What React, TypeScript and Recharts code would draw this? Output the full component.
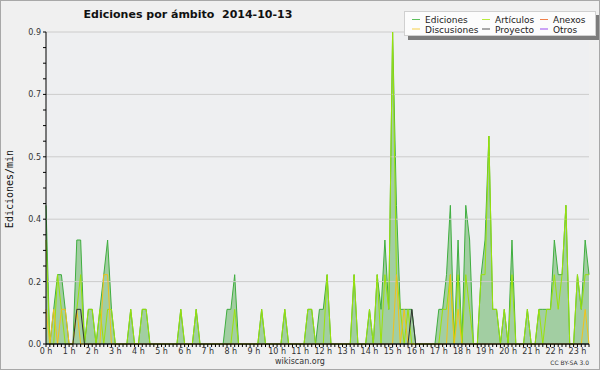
import { Area, ComposedChart, Legend, Line, ReferenceLine, XAxis, YAxis } from "recharts"

// ediciones por minuto, tramos de 10 min (una fila = una hora)
const ediciones = [
	0.4, 0, 0.1, 0.2, 0.2, 0.1,
	0, 0, 0.3, 0.3, 0, 0.1,
	0.1, 0, 0.1, 0.2, 0.3, 0.1,
	0, 0, 0, 0, 0.1, 0,
	0, 0.1, 0.1, 0, 0, 0,
	0, 0, 0, 0, 0, 0.1,
	0, 0, 0, 0.1, 0, 0,
	0, 0, 0, 0, 0, 0.1,
	0.1, 0.2, 0, 0, 0, 0,
	0, 0, 0.1, 0, 0, 0,
	0, 0, 0.1, 0, 0, 0,
	0, 0, 0.1, 0.1, 0, 0.1,
	0.1, 0.2, 0, 0, 0, 0,
	0, 0, 0.2, 0, 0, 0,
	0.1, 0, 0.2, 0.1, 0.3, 0.1,
	0.9, 0.4, 0.1, 0.1, 0.1, 0.1,
	0, 0, 0, 0, 0, 0,
	0.1, 0.1, 0.2, 0.4, 0, 0.3,
	0, 0.4, 0.3, 0, 0, 0.2,
	0.3, 0.6, 0.1, 0.1, 0, 0.1,
	0, 0.3, 0, 0, 0, 0.1,
	0, 0, 0.1, 0.1, 0.1, 0.1,
	0.3, 0.2, 0.2, 0.4, 0, 0,
	0.2, 0.1, 0.3, 0.2,
]

const articulos = [
	0.3, 0, 0, 0.2, 0.1, 0,
	0, 0, 0.1, 0.2, 0, 0.1,
	0.1, 0, 0.1, 0, 0.1, 0.1,
	0, 0, 0, 0, 0.1, 0,
	0, 0.1, 0.1, 0, 0, 0,
	0, 0, 0, 0, 0, 0.1,
	0, 0, 0, 0.1, 0, 0,
	0, 0, 0, 0, 0, 0,
	0, 0.1, 0, 0, 0, 0,
	0, 0, 0.1, 0, 0, 0,
	0, 0, 0.1, 0, 0, 0,
	0, 0, 0.1, 0.1, 0, 0,
	0, 0.2, 0, 0, 0, 0,
	0, 0, 0.2, 0, 0, 0,
	0.1, 0, 0.2, 0, 0.2, 0.1,
	0.9, 0.2, 0.1, 0, 0.1, 0,
	0, 0, 0, 0, 0, 0,
	0, 0.1, 0.1, 0.2, 0, 0.2,
	0, 0.2, 0.1, 0, 0, 0.2,
	0.2, 0.6, 0.1, 0.1, 0, 0.1,
	0, 0.2, 0, 0, 0, 0.1,
	0, 0, 0.1, 0, 0.1, 0.1,
	0.2, 0.1, 0.2, 0.4, 0, 0,
	0.2, 0.1, 0.2, 0.2,
]

const discusiones = [
	0.1, 0, 0.1, 0, 0.1, 0.1,
	0, 0, 0.1, 0, 0, 0,
	0, 0, 0, 0.2, 0.2, 0,
	0, 0, 0, 0, 0, 0,
	0, 0, 0, 0, 0, 0,
	0, 0, 0, 0, 0, 0,
	0, 0, 0, 0, 0, 0,
	0, 0, 0, 0, 0, 0,
	0, 0, 0, 0, 0, 0,
	0, 0, 0, 0, 0, 0,
	0, 0, 0, 0, 0, 0,
	0, 0, 0, 0, 0, 0,
	0, 0, 0, 0, 0, 0,
	0, 0, 0, 0, 0, 0,
	0, 0, 0, 0, 0, 0,
	0, 0.2, 0, 0.1, 0, 0,
	0, 0, 0, 0, 0, 0,
	0, 0, 0, 0.2, 0, 0.1,
	0, 0, 0, 0, 0, 0,
	0, 0, 0, 0, 0, 0,
	0, 0, 0, 0, 0, 0,
	0, 0, 0, 0, 0, 0,
	0, 0, 0, 0, 0, 0,
	0, 0, 0.1, 0,
]

const proyecto = [
	0, 0, 0, 0, 0, 0,
	0, 0, 0.1, 0.1, 0, 0,
	0, 0, 0, 0, 0, 0,
	0, 0, 0, 0, 0, 0,
	0, 0, 0, 0, 0, 0,
	0, 0, 0, 0, 0, 0,
	0, 0, 0, 0, 0, 0,
	0, 0, 0, 0, 0, 0,
	0, 0, 0, 0, 0, 0,
	0, 0, 0, 0, 0, 0,
	0, 0, 0, 0, 0, 0,
	0, 0, 0, 0, 0, 0,
	0, 0, 0, 0, 0, 0,
	0, 0, 0, 0, 0, 0,
	0, 0, 0, 0, 0, 0,
	0, 0, 0, 0, 0, 0.1,
	0, 0, 0, 0, 0, 0,
	0, 0, 0, 0, 0, 0,
	0, 0, 0, 0, 0, 0,
	0, 0, 0, 0, 0, 0,
	0, 0, 0, 0, 0, 0,
	0, 0, 0, 0, 0, 0,
	0, 0, 0, 0, 0, 0,
	0, 0, 0, 0,
]

const yMajor = [0, 0.18, 0.36, 0.54, 0.72, 0.9]
const legendItems = [
	{ name: "Ediciones", color: "#5cc05c" },
	{ name: "Artículos", color: "#b8ec3c" },
	{ name: "Anexos", color: "#f0804a" },
	{ name: "Discusiones", color: "#f6d048" },
	{ name: "Proyecto", color: "#555555" },
	{ name: "Otros", color: "#9a4cf0" },
]

const data = ediciones.map((v, i) => ({
	t: i * 10,
	ediciones: v,
	articulos: articulos[i],
	discusiones: discusiones[i],
	proyecto: proyecto[i],
}))

const xTicks = data.map((d) => d.t)
const yTicks: number[] = []
for (let k = 0; k <= 20; k++) yTicks.push(k * 0.045)

const FONT = "'DejaVu Sans', sans-serif"

function XTick(props: any) {
	const { x, y, payload } = props
	const v = payload.value
	return (
		<g>
			<line x1={x} x2={x} y1={y} y2={y + 3} stroke="#000" />
			{v % 60 === 0 && (
				<text x={x} y={y + 10} textAnchor="middle" fontSize={8} fontFamily={FONT} fill="#333">
					{`${v / 60} h`}
				</text>
			)}
		</g>
	)
}

function YTick(props: any) {
	const { x, y, payload, index } = props
	return (
		<g>
			<line x1={x - 3} x2={x} y1={y} y2={y} stroke="#000" />
			{index % 4 === 0 && (
				<text x={x - 5} y={y + 3} textAnchor="end" fontSize={8} fontFamily={FONT} fill="#333">
					{payload.value.toFixed(1)}
				</text>
			)}
		</g>
	)
}

function LegendBox() {
	const cols = [7, 77, 135]
	const rows = [7.5, 17]
	return (
		<div
			style={{
				width: 190,
				height: 23,
				background: "#fcfcfc",
				border: "1px solid #d0d0d0",
				boxShadow: "4px 4px 0 #7c7c7c",
			}}
		>
			<svg width={190} height={23} style={{ display: "block" }}>
				{legendItems.map((it, i) => {
					const cx = cols[i % 3]
					const cy = rows[Math.floor(i / 3)]
					return (
						<g key={it.name}>
							<line x1={cx} x2={cx + 8} y1={cy} y2={cy} stroke={it.color} />
							<text x={cx + 13} y={cy + 3.5} fontSize={9} fontFamily={FONT} fill="#222">
								{it.name}
							</text>
						</g>
					)
				})}
			</svg>
		</div>
	)
}

export default function App() {
	return (
		<div style={{ position: "relative", width: 600, height: 370, background: "#f0f0f0" }}>
			<style>{`body{margin:0}`}</style>
			<ComposedChart
				width={600}
				height={370}
				data={data}
				margin={{ top: 32, right: 11, bottom: 0, left: 0 }}
			>
				<rect x={46} y={32} width={543} height={312} fill="#eeeff1" />
				{yMajor.slice(1).map((v) => (
					<ReferenceLine key={v} y={v} stroke="#cccccc" ifOverflow="extendDomain" />
				))}
				<XAxis
					dataKey="t"
					type="number"
					domain={[0, 1410]}
					ticks={xTicks}
					interval={0}
					tickSize={0}
					tickMargin={0}
					tickLine={false}
					tick={<XTick />}
					height={26}
					axisLine={{ stroke: "#000" }}
				/>
				<YAxis
					type="number"
					domain={[0, 0.9]}
					ticks={yTicks}
					interval={0}
					tickSize={0}
					tickMargin={0}
					tickLine={false}
					tick={<YTick />}
					width={46}
					axisLine={{ stroke: "#000" }}
				/>
				<Area
					type="linear"
					dataKey="ediciones"
					stroke="#3fae3f"
					strokeWidth={1}
					fill="#8fc68f"
					fillOpacity={0.8}
					isAnimationActive={false}
					dot={false}
				/>
				<Line type="linear" dataKey="articulos" stroke="#9be30a" strokeWidth={1} dot={false} isAnimationActive={false} />
				<Line type="linear" dataKey="discusiones" stroke="#f2c21a" strokeWidth={1} dot={false} isAnimationActive={false} />
				<Line type="linear" dataKey="proyecto" stroke="#333333" strokeWidth={1} dot={false} isAnimationActive={false} />
				<Legend
					layout="horizontal"
					verticalAlign="middle"
					align="center"
					wrapperStyle={{ left: 404, top: 11, width: 192, height: 25 }}
					content={() => <LegendBox />}
				/>
			</ComposedChart>
			<svg
				width={600}
				height={370}
				style={{ position: "absolute", left: 0, top: 0, pointerEvents: "none" }}
			>
				<text x={188} y={18} textAnchor="middle" fontSize={11} fontWeight="bold" fontFamily={FONT} fill="#111">
					Ediciones por ámbito{"\u00a0\u00a0"}2014-10-13
				</text>
				<text
					x={13}
					y={189}
					transform="rotate(-90 13 189)"
					textAnchor="middle"
					fontSize={10}
					fontFamily="'DejaVu Sans Mono', monospace"
					fill="#111"
				>
					Ediciones/min
				</text>
				<text x={300} y={364} textAnchor="middle" fontSize={8} fontFamily={FONT} fill="#333">
					wikiscan.org
				</text>
				<text x={589} y={365} textAnchor="end" fontSize={6} fontFamily={FONT} fill="#333">
					CC BY-SA 3.0
				</text>
				<rect x={0.5} y={0.5} width={599} height={369} fill="none" stroke="#a8a8a8" />
			</svg>
		</div>
	)
}
